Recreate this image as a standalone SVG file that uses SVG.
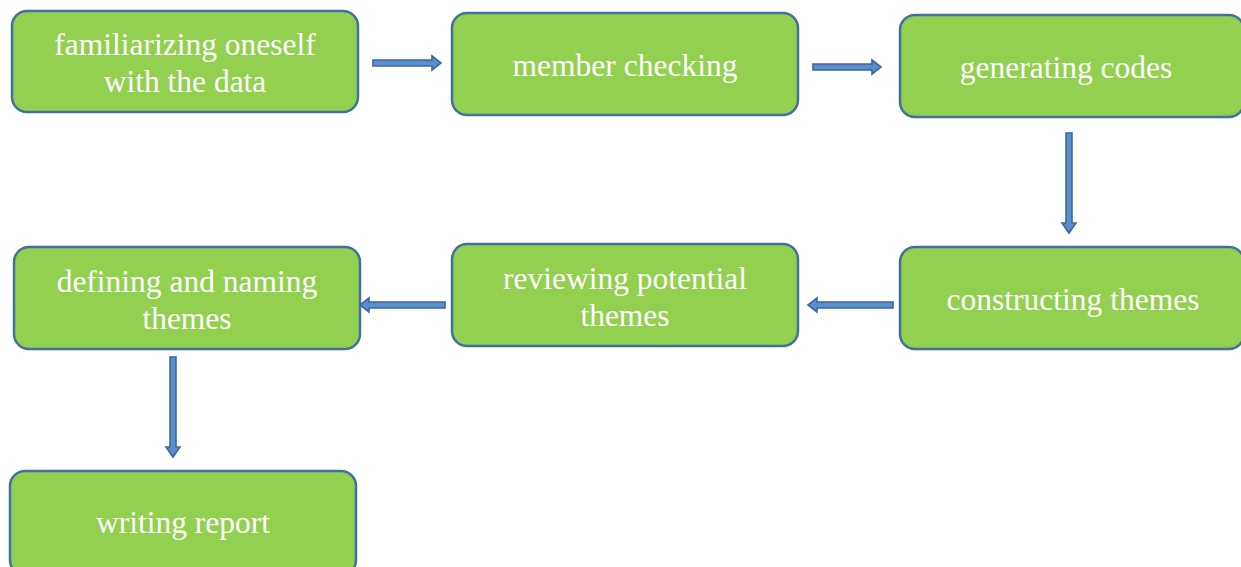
<svg xmlns="http://www.w3.org/2000/svg" width="1241" height="567" viewBox="0 0 1241 567">
<style>
.box{fill:#92D050;stroke:#41719C;stroke-width:2.5}
.t{font-family:"Liberation Serif","Times New Roman",serif;font-size:31.5px;fill:#ffffff;text-anchor:middle}
.ar{fill:#5B8FCB;stroke:#3A67A0;stroke-width:1.6;stroke-linejoin:miter}
</style>
<rect width="1241" height="567" fill="#ffffff"/>
<g id="n1"><rect class="box" x="12" y="11" width="346" height="101" rx="15"/><text class="t" x="185" y="55">familiarizing oneself</text><text class="t" x="185" y="92">with the data</text></g>
<g id="n2"><rect class="box" x="452" y="13" width="346" height="102" rx="15"/><text class="t" x="625" y="76">member checking</text></g>
<g id="n3"><rect class="box" x="900" y="15" width="344" height="102" rx="15"/><text class="t" x="1066" y="78">generating codes</text></g>
<g id="n4"><rect class="box" x="900" y="247" width="344" height="102" rx="15"/><text class="t" x="1073" y="310">constructing themes</text></g>
<g id="n5"><rect class="box" x="452" y="244" width="346" height="102" rx="15"/><text class="t" x="625" y="289">reviewing potential</text><text class="t" x="625" y="326">themes</text></g>
<g id="n6"><rect class="box" x="14" y="247" width="346" height="102" rx="15"/><text class="t" x="187" y="292">defining and naming</text><text class="t" x="187" y="329">themes</text></g>
<g id="n7"><rect class="box" x="10" y="471" width="346" height="104" rx="15"/><text class="t" x="183" y="533">writing report</text></g>
<g id="connectors">
<polygon class="ar" points="373,60 432,60 432,56 441,63 432,70 432,66 373,66"/>
<polygon class="ar" points="813,64 872,64 872,60 881,67 872,74 872,70 813,70"/>
<polygon class="ar" points="1066,133 1072,133 1072,223 1076,223 1069,233 1062,223 1066,223"/>
<polygon class="ar" points="893,302 817,302 817,298 808,305 817,312 817,308 893,308"/>
<polygon class="ar" points="445,302 369,302 369,298 360,305 369,312 369,308 445,308"/>
<polygon class="ar" points="170,357 176,357 176,447 180,447 173,457 166,447 170,447"/>
</g>
</svg>
